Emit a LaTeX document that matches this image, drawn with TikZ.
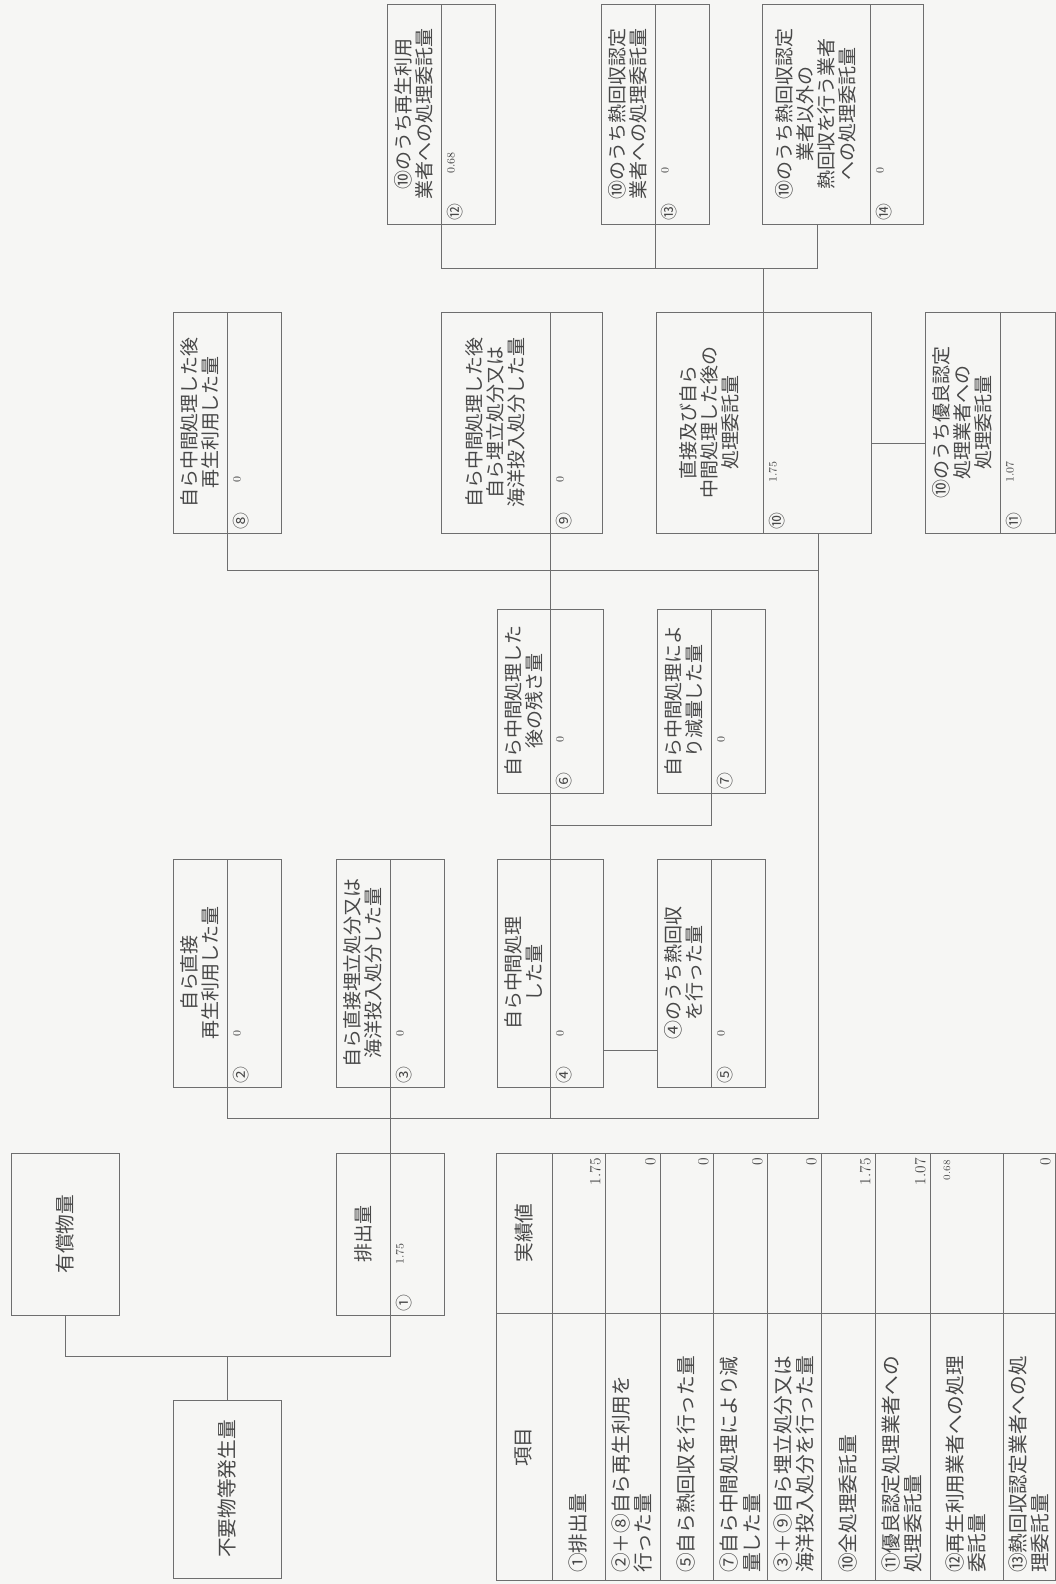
\documentclass[tikz,border=0pt]{standalone}
\usepackage{fontspec}
\usepackage{tikz}
\usetikzlibrary{fit, calc}

\newfontfamily\jp{Noto Sans CJK JP}
\definecolor{paper}{RGB}{246,246,244}
\definecolor{linegray}{RGB}{110,110,110}
\definecolor{textgray}{RGB}{72,72,72}

% one box of the flow: name, left, top, right, bottom, divider, number, value, label
\newcommand{\flowbox}[9]{%
    \node[box, fit={(#2,#3) (#4,#5)}] (#1) {};
    \draw[conn] (#6,#3) coordinate (#1t) -- (#6,#5) coordinate (#1b);
    \node[boxlabel] (#1l) at ({(#2+#6)/2},{(#3+#5)/2}) {#9};
    \node[circnum] (#1n) at ({#6+14},{#5-3}) {#7};
    \node[boxval] (#1v) at ({#6+10},{#5-50}) {#8};
}

\begin{document}
\begin{tikzpicture}[x=0.25mm, y=-0.25mm,
    conn/.style={linegray, line width=0.7pt},
    box/.style={draw=linegray, line width=0.7pt, inner sep=0pt},
    boxlabel/.style={rotate=90, align=center, text=textgray, inner sep=0pt,
        font=\jp\fontsize{13.5}{15}\selectfont},
    bigtext/.style={rotate=90, text=textgray, font=\jp\fontsize{14}{15}\selectfont},
    circnum/.style={rotate=90, anchor=west, inner sep=0pt, text=textgray,
        font=\jp\fontsize{12}{12}\selectfont},
    boxval/.style={rotate=90, anchor=west, inner sep=0pt, text=textgray,
        font=\fontsize{8}{9}\selectfont},
    item/.style={rotate=90, anchor=west, align=left, inner sep=0pt, text=textgray,
        font=\jp\fontsize{14}{16}\selectfont},
    tabval/.style={rotate=90, anchor=south east, inner sep=0pt, text=textgray,
        font=\fontsize{11}{12}\selectfont}]

    \fill[paper] (0,0) rectangle (1056,1584);
    \useasboundingbox (0,0) rectangle (1056,1584);

    % consignment to contractors
    \flowbox{b12}{387}{4}{495}{224}{441}{⑫}{0.68}{⑩のうち再生利用\\業者への処理委託量}
    \flowbox{b13}{601}{4}{709}{224}{655}{⑬}{0}{⑩のうち熱回収認定\\業者への処理委託量}
    \flowbox{b14}{762}{4}{923}{224}{870}{⑭}{0}{⑩のうち熱回収認定\\業者以外の\\熱回収を行う業者\\への処理委託量}

    % after own intermediate treatment
    \flowbox{b8}{173}{312}{281}{533}{227}{⑧}{0}{自ら中間処理した後\\再生利用した量}
    \flowbox{b9}{441}{312}{602}{533}{550}{⑨}{0}{自ら中間処理した後\\自ら埋立処分又は\\海洋投入処分した量}
    \flowbox{b10}{656}{312}{871}{533}{763}{⑩}{1.75}{直接及び自ら\\中間処理した後の\\処理委託量}
    \flowbox{b11}{925}{312}{1055}{533}{1000}{⑪}{1.07}{⑩のうち優良認定\\処理業者への\\処理委託量}

    \flowbox{b6}{497}{609}{603}{793}{550}{⑥}{0}{自ら中間処理した\\後の残さ量}
    \flowbox{b7}{657}{609}{765}{793}{711}{⑦}{0}{自ら中間処理によ\\り減量した量}

    % direct handling
    \flowbox{b2}{173}{859}{281}{1087}{227}{②}{0}{自ら直接\\再生利用した量}
    \flowbox{b3}{336}{859}{444}{1087}{390}{③}{0}{自ら直接埋立処分又は\\海洋投入処分した量}
    \flowbox{b4}{497}{859}{603}{1087}{550}{④}{0}{自ら中間処理\\した量}
    \flowbox{b5}{657}{859}{765}{1087}{711}{⑤}{0}{④のうち熱回収\\を行った量}

    % generation
    \flowbox{b1}{336}{1153}{444}{1315}{390}{①}{1.75}{排出量}
    \node[box, fit={(11,1153) (119,1315)}] (yuusho) {};
    \node[bigtext] (yuushol) at (yuusho) {有償物量};
    \node[box, fit={(173,1400) (281,1578)}] (fuyou) {};
    \node[bigtext] (fuyoul) at (fuyou) {不要物等発生量};

    % connectors
    \coordinate (j1) at (390,1356);
    \draw[conn] (yuusho.south) |- (j1) -- (b1b);
    \draw[conn] (fuyou.north) -- (fuyou.north |- j1);
    \draw[conn] (b1t) -- (b3b);

    \coordinate (j2) at (818,1118);
    \coordinate (b10s) at (818,533);
    \draw[conn] (b2b) |- (j2) -- (b10s);
    \draw[conn] (b4b) -- (b4b |- j2);
    \draw[conn] ($(b4.east)+(0,77)$) -- ($(b5.west)+(0,77)$);

    \coordinate (j3) at (550,825);
    \draw[conn] (b4t) -- (b6b);
    \draw[conn] (b7b) |- (j3);
    \draw[conn] (b6t) -- (b9b);

    \coordinate (j4) at (818,570);
    \draw[conn] (b8b) |- (j4);
    \draw[conn] ($(b10.east)+(0,21)$) -- ($(b11.west)+(0,21)$);

    \coordinate (j5) at (817,268);
    \coordinate (b14s) at (817,224);
    \draw[conn] (b12b) |- (j5) -- (b14s);
    \draw[conn] (b13b) -- (b13b |- j5);
    \draw[conn] (b10t) -- (b10t |- j5);

    % table of results
    \draw[conn] (496,1153) rectangle (1055,1580);
    \draw[conn] (496,1313) -- (1055,1313);
    \foreach \x in {552,605,660,713,767,821,875,930,1003}
        \draw[conn] (\x,1153) -- (\x,1580);
    \node[bigtext] (hitem) at (524,1447) {項目};
    \node[bigtext] (hval) at (524,1233) {実績値};

    \foreach \x/\t in {578/{①排出量}, 632/{②＋⑧自ら再生利用を\\行った量},
        686/{⑤自ら熱回収を行った量}, 740/{⑦自ら中間処理により減\\量した量},
        794/{③＋⑨自ら埋立処分又は\\海洋投入処分を行った量}, 848/{⑩全処理委託量},
        902/{⑪優良認定処理業者への\\処理委託量}, 966/{⑫再生利用業者への処理\\委託量},
        1029/{⑬熱回収認定業者への処\\理委託量}}
        \node[item] (item\x) at (\x,1573) {\t};

    \foreach \x/\v in {601/1.75, 656/0, 709/0, 763/0, 817/0, 871/1.75, 926/1.07, 1051/0}
        \node[tabval] (val\x) at (\x,1158) {\v};
    \node[tabval, anchor=east, font=\fontsize{7}{8}\selectfont] (val930) at (947,1160) {0.68};
\end{tikzpicture}
\end{document}
